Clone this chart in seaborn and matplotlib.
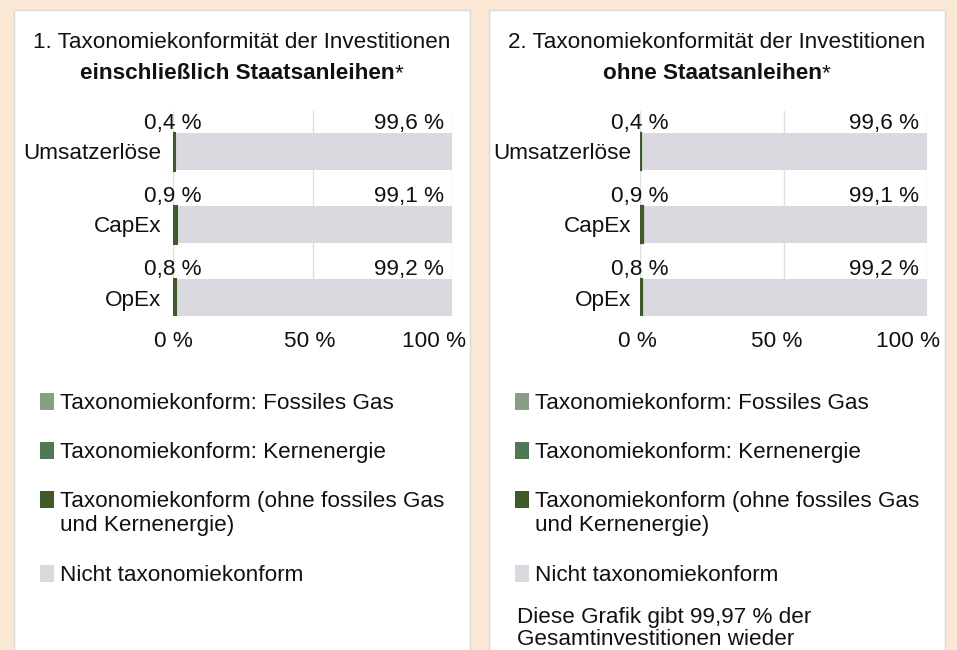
import numpy as np
import pandas as pd
import matplotlib
matplotlib.use("Agg")
import matplotlib.pyplot as plt
import seaborn as sns
from matplotlib.patches import Rectangle
from matplotlib.transforms import ScaledTranslation

# ---------------- data ----------------
categories = ["Umsatzerlöse", "CapEx", "OpEx"]

p1_fossil_gas = [0.0, 0.0, 0.0]
p1_nuclear = [0.0, 0.0, 0.0]
p1_aligned_other = [0.4, 0.9, 0.8]
p1_not_aligned = [99.6, 99.1, 99.2]

p2_fossil_gas = [0.0, 0.0, 0.0]
p2_nuclear = [0.0, 0.0, 0.0]
p2_aligned_other = [0.4, 0.9, 0.8]
p2_not_aligned = [99.6, 99.1, 99.2]

tick_values = [0, 50, 100]
tick_labels = ["0 %", "50 %", "100 %"]

title1_line1 = "1. Taxonomiekonformität der Investitionen"
title1_bold = "einschließlich Staatsanleihen"
title2_line1 = "2. Taxonomiekonformität der Investitionen"
title2_bold = "ohne Staatsanleihen"

legend_labels = [
    ["Taxonomiekonform: Fossiles Gas"],
    ["Taxonomiekonform: Kernenergie"],
    ["Taxonomiekonform (ohne fossiles Gas", "und Kernenergie)"],
    ["Nicht taxonomiekonform"],
]
footnote_lines = ["Diese Grafik gibt 99,97 % der", "Gesamtinvestitionen wieder"]

# ---------------- style ----------------
BG = "#FAE8D5"
PANEL_EDGE = "#D9D9D9"
C_FOSSIL = "#87A083"
C_NUCLEAR = "#4F7955"
C_DARK = "#3D5A28"
C_GREY = "#D9D9DF"
GRID = "#DEDEE3"
TXT = "#111111"
FS = 16.2

sns.set_theme(style="white")
plt.rcParams["font.family"] = ["Liberation Sans", "DejaVu Sans"]
plt.rcParams["text.color"] = TXT
plt.rcParams["xtick.color"] = TXT
plt.rcParams["ytick.color"] = TXT

W, H = 957, 650
fig = plt.figure(figsize=(W / 100, H / 100), dpi=100, facecolor=BG)


def fx(px):
    return px / W


def fy(py):
    return 1 - py / H


def fmt(v):
    return f"{v:.1f} %".replace(".", ",")


panels = [
    dict(x0=14, x1=470, ax0=173, ax1=452, ypad=8.4, t1=title1_line1, tb=title1_bold,
         fos=p1_fossil_gas, nuc=p1_nuclear, oth=p1_aligned_other, non=p1_not_aligned,
         foot=False, shift100=14, tick_dx=[0, -3, 0], barlw=2.2),
    dict(x0=489, x1=945, ax0=640, ax1=927, ypad=6.2, t1=title2_line1, tb=title2_bold,
         fos=p2_fossil_gas, nuc=p2_nuclear, oth=p2_aligned_other, non=p2_not_aligned,
         foot=True, shift100=13, tick_dx=[-3, -7, 0], barlw=1.6),
]

for p in panels:
    dx = p["x0"] - 14
    # white card
    fig.add_artist(Rectangle((fx(p["x0"]), fy(700)), fx(p["x1"] - p["x0"]), (700 - 10) / H,
                             transform=fig.transFigure, facecolor="white",
                             edgecolor=PANEL_EDGE, lw=1, zorder=-5))
    cx = (p["x0"] + p["x1"]) / 2

    # titles
    fig.text(fx(cx), fy(48), p["t1"], ha="center", va="baseline", fontsize=FS)
    tb = fig.text(fx(cx - 4.4), fy(79), p["tb"], ha="center", va="baseline",
                  fontsize=FS, fontweight="bold")

    ax = fig.add_axes([fx(p["ax0"]), fy(316), fx(p["ax1"] - p["ax0"]), 205 / H])
    ax.patch.set_alpha(0)
    ax.annotate("*", xy=(1, 0), xycoords=tb, ha="left", va="bottom",
                fontsize=FS, annotation_clip=False)

    fos = np.array(p["fos"])
    nuc = np.array(p["nuc"])
    oth = np.array(p["oth"])
    non = np.array(p["non"])
    df = pd.DataFrame({
        "cat": categories,
        "total": fos + nuc + oth + non,
        "green": fos + nuc + oth,
        "nuc": fos + nuc,
        "fos": fos,
    })
    sns.barplot(data=df, x="total", y="cat", orient="h", color=C_GREY, saturation=1,
                width=0.5, errorbar=None, linewidth=0, ax=ax)
    sns.barplot(data=df, x="green", y="cat", orient="h", color=C_DARK, saturation=1,
                width=0.5, errorbar=None, linewidth=p["barlw"], edgecolor=C_DARK, ax=ax)
    sns.barplot(data=df, x="nuc", y="cat", orient="h", color=C_NUCLEAR, saturation=1,
                width=0.5, errorbar=None, linewidth=0, ax=ax)
    sns.barplot(data=df, x="fos", y="cat", orient="h", color=C_FOSSIL, saturation=1,
                width=0.5, errorbar=None, linewidth=0, ax=ax)

    ax.set_xlim(0, 100)
    ax.set_ylim(2.25, -0.55)
    ax.set_xlabel("")
    ax.set_ylabel("")
    for s in ax.spines.values():
        s.set_visible(False)
    ax.set_xticks(tick_values)
    ax.set_xticklabels(tick_labels)
    ax.grid(axis="x", color=GRID, lw=1)
    ax.grid(axis="y", visible=False)
    ax.set_axisbelow(True)
    ax.tick_params(axis="x", length=0, pad=10.5, labelsize=FS)
    ax.tick_params(axis="y", length=0, pad=p["ypad"], labelsize=FS)
    xl = ax.get_xticklabels()
    for lbl, d in zip(xl, p["tick_dx"]):
        lbl.set_transform(lbl.get_transform() + ScaledTranslation(d / 100, 0, fig.dpi_scale_trans))
    xl[-1].set_horizontalalignment("right")
    xl[-1].set_transform(xl[-1].get_transform() +
                         ScaledTranslation(p["shift100"] / 100, 0, fig.dpi_scale_trans))

    up = ScaledTranslation(0, 0.04, fig.dpi_scale_trans)
    left8 = ScaledTranslation(-0.08, 0.04, fig.dpi_scale_trans)
    for i in range(len(categories)):
        ax.text(0, i - 0.25, fmt(df["green"][i]), ha="center", va="baseline",
                fontsize=FS, transform=ax.transData + up)
        ax.text(df["total"][i], i - 0.25, fmt(non[i]), ha="right", va="baseline",
                fontsize=FS, transform=ax.transData + left8)

    # legend
    swatch_colors = [C_FOSSIL, C_NUCLEAR, C_DARK, C_GREY]
    baselines = [409, 458, 507, 581]
    for col, lab, b in zip(swatch_colors, legend_labels, baselines):
        fig.add_artist(Rectangle((fx(40 + dx), fy(b + 0.5)), fx(14), 17 / H,
                                 transform=fig.transFigure, facecolor=col, lw=0))
        for k, line in enumerate(lab):
            fig.text(fx(60 + dx), fy(b + 24 * k), line, ha="left", va="baseline", fontsize=FS)

    if p["foot"]:
        for k, line in enumerate(footnote_lines):
            fig.text(fx(517), fy(623 + 22 * k), line, ha="left", va="baseline", fontsize=FS)

fig.savefig("out.png", dpi=100, facecolor=BG)
